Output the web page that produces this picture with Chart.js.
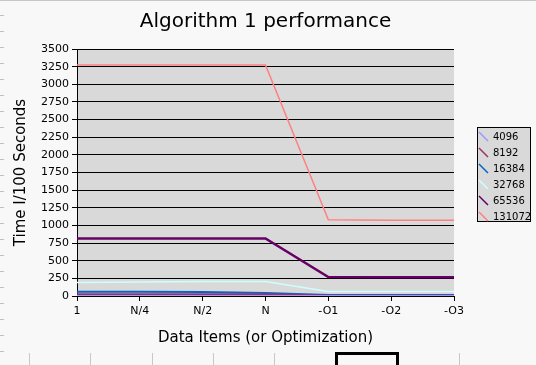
<!DOCTYPE html>
<html>
<head>
<meta charset="utf-8">
<script src="https://cdn.jsdelivr.net/npm/chart.js@4/dist/chart.umd.min.js"></script>
<style>
  html, body { margin: 0; padding: 0; background: #f8f8f8; }
  #wrap { position: relative; width: 536px; height: 365px; overflow: hidden; }
  #topline { position: absolute; left: 0; top: 0; width: 536px; height: 1px; background: #c8c8c8; }
  #rows { position: absolute; left: 0; top: 0; width: 4px; height: 365px;
    background: repeating-linear-gradient(to bottom, transparent 0px, transparent 15px, #c0c0c0 15px, #c0c0c0 16px); }
  .col { position: absolute; top: 353px; width: 1px; height: 12px; background: #c8c8c8; }
  #cell { position: absolute; left: 335px; top: 352px; width: 58px; height: 20px; border: 3px solid #000; }
</style>
</head>
<body>
<div id="wrap">
  <canvas id="perfChart" width="536" height="365"></canvas>
  <div id="topline"></div>
  <div id="rows"></div>
  <div class="col" style="left:29px"></div>
  <div class="col" style="left:90px"></div>
  <div class="col" style="left:152px"></div>
  <div class="col" style="left:213px"></div>
  <div class="col" style="left:274px"></div>
  <div class="col" style="left:459px"></div>
  <div id="cell"></div>
</div>
<script>
const categories = ["1", "N/4", "N/2", "N", "-O1", "-O2", "-O3"];
const seriesNames = ["4096", "8192", "16384", "32768", "65536", "131072"];
const s4096   = [5, 5, 5, 5, 2, 2, 2];
const s8192   = [20, 20, 20, 20, 5, 5, 5];
const s16384  = [60, 60, 55, 42, 15, 15, 15];
const s32768  = [192, 198, 205, 205, 65, 65, 65];
const s65536  = [815, 815, 815, 815, 268, 265, 265];
const s131072 = [3275, 3275, 3275, 3275, 1080, 1075, 1075];
const colors = ["#9999ff", "#993366", "#0066cc", "#ccffff", "#660066", "#ff8080"];
const widths = [1.5, 2.5, 2, 1.5, 2.5, 1.5];

const allSeries = [s4096, s8192, s16384, s32768, s65536, s131072];

const plotBg = {
  id: "plotBg",
  beforeDraw(chart) {
    const { ctx, chartArea: a } = chart;
    ctx.save();
    ctx.fillStyle = "#d9d9d9";
    ctx.fillRect(a.left, a.top, a.right - a.left, a.bottom - a.top);
    ctx.restore();
  }
};

// legend box drawn by hand, like the spreadsheet one
const boxLegend = {
  id: "boxLegend",
  afterDraw(chart) {
    const ctx = chart.ctx;
    ctx.save();
    ctx.fillStyle = "#d9d9d9";
    ctx.fillRect(477, 127, 54, 95);
    ctx.strokeStyle = "#000";
    ctx.lineWidth = 1;
    ctx.strokeRect(477.5, 127.5, 53, 94);
    ctx.font = "10px 'DejaVu Sans'";
    ctx.textBaseline = "middle";
    chart.data.datasets.forEach((ds, i) => {
      const y = 137 + i * 16;
      ctx.strokeStyle = ds.borderColor;
      ctx.lineWidth = 1.5;
      ctx.beginPath();
      ctx.moveTo(479, y - 5);
      ctx.lineTo(488, y + 4);
      ctx.stroke();
      ctx.fillStyle = "#000";
      ctx.fillText(ds.label, 493, y);
    });
    ctx.restore();
  }
};

new Chart(document.getElementById("perfChart"), {
  type: "line",
  data: {
    labels: categories,
    datasets: allSeries.map((vals, i) => ({
      label: seriesNames[i],
      data: vals,
      borderColor: colors[i],
      backgroundColor: colors[i],
      borderWidth: widths[i],
      pointRadius: 0,
      tension: 0
    }))
  },
  options: {
    responsive: false,
    animation: false,
    layout: { padding: { left: 0, right: 5, top: 0, bottom: 0 } },
    plugins: {
      legend: { display: false },
      tooltip: { enabled: false },
      title: {
        display: true,
        text: "Algorithm 1 performance",
        color: "#000",
        font: { family: "DejaVu Sans", size: 20, weight: "normal" },
        padding: { top: 10, bottom: 15 }
      }
    },
    scales: {
      x: {
        offset: false,
        border: { color: "#000", width: 1 },
        grid: { drawOnChartArea: false, drawTicks: true, tickLength: 5, color: "#000" },
        ticks: { color: "#000", font: { family: "DejaVu Sans", size: 11 }, padding: 4, maxRotation: 0 },
        title: {
          display: true,
          text: "Data Items (or Optimization)",
          color: "#000",
          font: { family: "DejaVu Sans", size: 15 },
          padding: { top: 4, bottom: 18 }
        },
        afterFit(scale) { scale.height = 69; }
      },
      y: {
        min: 0,
        max: 3500,
        border: { color: "#000", width: 1 },
        grid: { color: "#000", tickLength: 5 },
        ticks: {
          stepSize: 250, color: "#000", padding: 3,
          font: { family: "DejaVu Sans", size: 11 },
          callback: (v) => String(v)
        },
        title: {
          display: true,
          text: "Time I/100 Seconds",
          color: "#000",
          font: { family: "DejaVu Sans", size: 15 },
          padding: { top: 12, bottom: 0 }
        },
        afterFit(scale) { scale.width = 77; }
      },
      // empty right-hand axis: keeps room for the legend box
      side: {
        position: "right",
        display: true,
        ticks: { display: false },
        grid: { display: false, drawTicks: false },
        border: { display: false },
        afterFit(scale) { scale.width = 77; }
      }
    }
  },
  plugins: [plotBg, boxLegend]
});
</script>
</body>
</html>
